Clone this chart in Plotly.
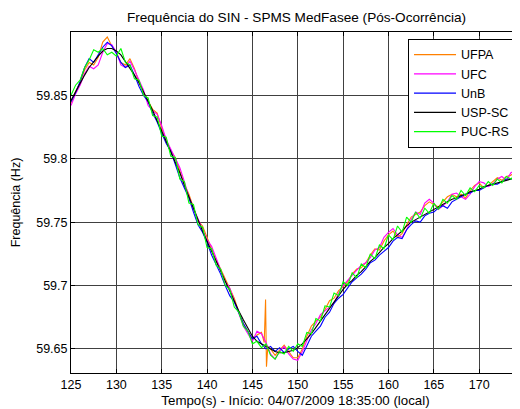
import plotly.graph_objects as go

# ---------------- data ----------------
t_common = [125.0 + 0.5 * i for i in range(100)]  # 125.0 .. 174.5 s

usp_sc = [
    59.846, 59.853, 59.860, 59.866, 59.872, 59.877, 59.881, 59.885, 59.887, 59.887,
    59.885, 59.882, 59.877, 59.872, 59.866, 59.860, 59.853, 59.846, 59.838, 59.830,
    59.822, 59.814, 59.806, 59.798, 59.789, 59.779, 59.770, 59.760, 59.751, 59.743,
    59.735, 59.727, 59.719, 59.711, 59.703, 59.695, 59.687, 59.680, 59.673, 59.666,
    59.660, 59.656, 59.654, 59.652, 59.650, 59.648, 59.647, 59.647, 59.648, 59.649,
    59.651, 59.654, 59.658, 59.662, 59.667, 59.672, 59.677, 59.683, 59.688, 59.693,
    59.697, 59.701, 59.704, 59.708, 59.711, 59.715, 59.719, 59.722, 59.726, 59.730,
    59.733, 59.737, 59.740, 59.743, 59.747, 59.750, 59.752, 59.754, 59.756, 59.758,
    59.760, 59.762, 59.764, 59.766, 59.768, 59.769, 59.771, 59.772, 59.774, 59.775,
    59.776, 59.778, 59.779, 59.780, 59.781, 59.782, 59.783, 59.784, 59.785, 59.786,
]

puc_rs = [
    59.850, 59.858, 59.862, 59.872, 59.878, 59.886, 59.884, 59.887, 59.882, 59.884,
    59.881, 59.887, 59.876, 59.874, 59.863, 59.862, 59.850, 59.848, 59.834, 59.833,
    59.818, 59.817, 59.802, 59.801, 59.784, 59.782, 59.765, 59.764, 59.748, 59.746,
    59.730, 59.729, 59.716, 59.713, 59.700, 59.697, 59.683, 59.679, 59.668, 59.664,
    59.654, 59.656, 59.651, 59.654, 59.645, 59.642, 59.648, 59.646, 59.652, 59.648,
    59.654, 59.652, 59.663, 59.662, 59.674, 59.672, 59.684, 59.683, 59.694, 59.692,
    59.703, 59.700, 59.710, 59.706, 59.717, 59.714, 59.725, 59.721, 59.732, 59.729,
    59.740, 59.736, 59.747, 59.742, 59.754, 59.750, 59.758, 59.753, 59.761, 59.757,
    59.765, 59.760, 59.768, 59.765, 59.771, 59.768, 59.775, 59.771, 59.777, 59.774,
    59.779, 59.777, 59.782, 59.779, 59.784, 59.781, 59.786, 59.784, 59.788, 59.786,
]

unb = [
    59.845, 59.852, 59.861, 59.872, 59.879, 59.876, 59.882, 59.888, 59.892, 59.889,
    59.883, 59.876, 59.872, 59.874, 59.866, 59.857, 59.850, 59.845, 59.836, 59.829,
    59.820, 59.812, 59.806, 59.796, 59.785, 59.777, 59.769, 59.758, 59.748, 59.742,
    59.734, 59.724, 59.717, 59.709, 59.700, 59.692, 59.687, 59.678, 59.670, 59.664,
    59.658, 59.660, 59.654, 59.650, 59.652, 59.648, 59.651, 59.647, 59.650, 59.652,
    59.648, 59.645, 59.653, 59.660, 59.664, 59.668, 59.675, 59.679, 59.686, 59.690,
    59.693, 59.698, 59.703, 59.706, 59.709, 59.713, 59.718, 59.720, 59.724, 59.727,
    59.730, 59.735, 59.738, 59.737, 59.744, 59.748, 59.751, 59.750, 59.755, 59.757,
    59.758, 59.761, 59.763, 59.761, 59.766, 59.768, 59.770, 59.772, 59.773, 59.775,
    59.775, 59.777, 59.779, 59.780, 59.780, 59.782, 59.784, 59.784, 59.786, 59.787,
]

ufc = [
    59.842, 59.851, 59.858, 59.867, 59.873, 59.871, 59.874, 59.884, 59.891, 59.890,
    59.884, 59.874, 59.872, 59.877, 59.870, 59.862, 59.854, 59.842, 59.838, 59.835,
    59.826, 59.815, 59.808, 59.800, 59.793, 59.782, 59.770, 59.761, 59.753, 59.745,
    59.736, 59.731, 59.722, 59.712, 59.703, 59.698, 59.688, 59.677, 59.668, 59.662,
    59.656, 59.664, 59.662, 59.655, 59.646, 59.642, 59.648, 59.652, 59.646, 59.642,
    59.641, 59.648, 59.656, 59.665, 59.670, 59.677, 59.680, 59.683, 59.686, 59.694,
    59.700, 59.704, 59.708, 59.712, 59.716, 59.718, 59.722, 59.728, 59.730, 59.738,
    59.742, 59.745, 59.740, 59.738, 59.744, 59.752, 59.758, 59.756, 59.765, 59.768,
    59.765, 59.760, 59.763, 59.766, 59.772, 59.773, 59.770, 59.768, 59.772, 59.778,
    59.782, 59.781, 59.778, 59.780, 59.784, 59.786, 59.783, 59.789, 59.791, 59.788,
]

t_ufpa = [
    125.0, 125.5, 126.0, 126.5, 127.0, 127.5, 128.0, 128.5, 129.0, 129.5,
    130.0, 130.5, 131.0, 131.5, 132.0, 132.5, 133.0, 133.5, 134.0, 134.5,
    135.0, 135.5, 136.0, 136.5, 137.0, 137.5, 138.0, 138.5, 139.0, 139.5,
    140.0, 140.5, 141.0, 141.5, 142.0, 142.5, 143.0, 143.5, 144.0, 144.5,
    145.0, 145.5, 146.0, 146.3, 146.45, 146.55, 146.7, 147.0, 147.5, 148.0,
    148.5, 149.0, 149.5, 150.0, 150.5, 151.0, 151.5, 152.0, 152.5, 153.0,
    153.5, 154.0, 154.5, 155.0, 155.5, 156.0, 156.5, 157.0, 157.5, 158.0,
    158.5, 159.0, 159.5, 160.0, 160.5, 161.0, 161.5, 162.0, 162.5, 163.0,
    163.5, 164.0, 164.5, 165.0, 165.5, 166.0, 166.5, 167.0, 167.5, 168.0,
    168.5, 169.0, 169.5, 170.0, 170.5, 171.0, 171.5, 172.0, 172.5, 173.0,
    173.5, 174.0, 174.5,
]
ufpa = [
    59.844, 59.853, 59.860, 59.870, 59.876, 59.874, 59.880, 59.892, 59.896, 59.889,
    59.884, 59.876, 59.874, 59.879, 59.871, 59.860, 59.852, 59.845, 59.839, 59.836,
    59.824, 59.815, 59.806, 59.801, 59.791, 59.780, 59.772, 59.762, 59.751, 59.747,
    59.738, 59.730, 59.720, 59.713, 59.705, 59.697, 59.690, 59.679, 59.670, 59.664,
    59.657, 59.661, 59.663, 59.655, 59.689, 59.636, 59.652, 59.650, 59.645, 59.649,
    59.653, 59.648, 59.643, 59.643, 59.650, 59.660, 59.668, 59.672, 59.675, 59.681,
    59.688, 59.690, 59.696, 59.699, 59.703, 59.709, 59.713, 59.714, 59.718, 59.724,
    59.729, 59.728, 59.735, 59.740, 59.743, 59.738, 59.741, 59.748, 59.754, 59.756,
    59.758, 59.763, 59.766, 59.764, 59.762, 59.766, 59.770, 59.772, 59.770, 59.772,
    59.769, 59.775, 59.779, 59.781, 59.777, 59.779, 59.782, 59.785, 59.783, 59.786,
    59.787, 59.790, 59.788,
]

x_ticks = [125, 130, 135, 140, 145, 150, 155, 160, 165, 170]
y_ticks = [59.65, 59.7, 59.75, 59.8, 59.85]
y_tick_text = ["59.65", "59.7", "59.75", "59.8", "59.85"]

series = [
    ("UFPA", t_ufpa, ufpa, "#FF8000"),
    ("UFC", t_common, ufc, "#FF00FF"),
    ("UnB", t_common, unb, "#0000FF"),
    ("USP-SC", t_common, usp_sc, "#000000"),
    ("PUC-RS", t_common, puc_rs, "#00FF00"),
]

# ---------------- figure ----------------
FONT = "Liberation Sans, Arial, sans-serif"
fig = go.Figure()
for name, xs, ys, col in series:
    fig.add_trace(go.Scatter(x=xs, y=ys, mode="lines", name=name,
                             line=dict(color=col, width=1.1)))

fig.update_layout(
    template="none",
    width=512, height=401,
    margin=dict(l=63, r=0, t=24, b=36, pad=0, autoexpand=False),
    paper_bgcolor="white", plot_bgcolor="white",
    font=dict(family=FONT, size=12.5, color="black"),
    title=dict(text="Frequência do SIN - SPMS MedFasee (Pós-Ocorrência)",
               x=0.5635, xanchor="center", y=1 - 9.5 / 401, yanchor="middle",
               font=dict(size=13.6)),
    showlegend=True,
    legend=dict(x=0.7506, y=0.9795, xanchor="left", yanchor="top",
                bgcolor="white", bordercolor="black", borderwidth=1,
                font=dict(size=12.5), itemwidth=42,
                tracegroupgap=0),
    xaxis=dict(
        range=[125, 174.5], tickmode="array", tickvals=x_ticks,
        ticks="inside", ticklen=4, tickcolor="black",
        showline=True, linecolor="black", linewidth=1, mirror="ticks",
        showgrid=True, gridcolor="#404040", gridwidth=1, zeroline=False,
        layer="above traces",
        title=dict(text="Tempo(s) - Início: 04/07/2009 18:35:00 (local)",
                   standoff=4, font=dict(size=13.3)),
    ),
    yaxis=dict(
        range=[59.631, 59.9], tickmode="array", tickvals=y_ticks, ticktext=y_tick_text,
        ticks="inside", ticklen=4, tickcolor="black",
        showline=True, linecolor="black", linewidth=1, mirror=False,
        showgrid=True, gridcolor="#404040", gridwidth=1, zeroline=False,
        title=dict(text="Frequência (Hz)", standoff=12, font=dict(size=12.5)),
    ),
)

fig.write_html("out.html")
